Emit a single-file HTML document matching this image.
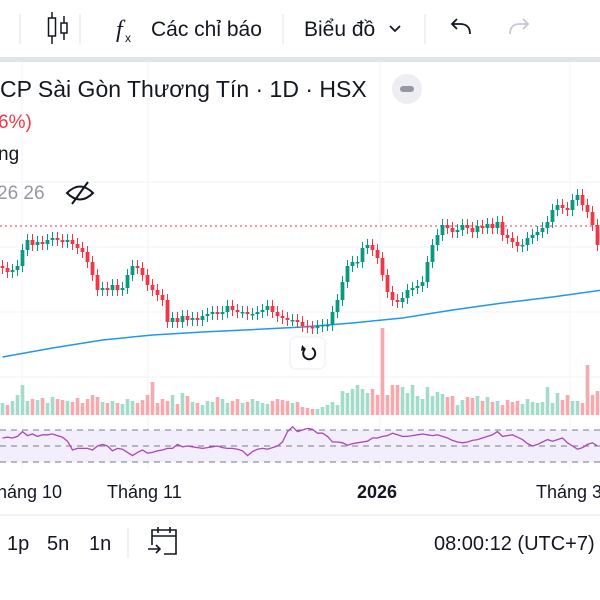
<!DOCTYPE html>
<html><head><meta charset="utf-8">
<style>
body{margin:0;width:600px;height:600px;overflow:hidden;background:#fff;font-family:"Liberation Sans","Noto Sans CJK SC",sans-serif;}
svg{position:absolute;left:0;top:0}
</style></head>
<body>
<svg width="600" height="600" viewBox="0 0 600 600">
<rect x="0" y="0" width="600" height="600" fill="#fff"/>
<g>
<line x1="20" y1="14" x2="20" y2="44" stroke="#e0e3eb"/>
<g>
<line x1="52" y1="12" x2="52" y2="44" stroke="#131722" stroke-width="1.5"/>
<rect x="48.5" y="18" width="7" height="18" fill="#fff" stroke="#131722" stroke-width="1.5"/>
<line x1="64" y1="16" x2="64" y2="40" stroke="#131722" stroke-width="1.5"/>
<rect x="61" y="23" width="6" height="10" fill="#fff" stroke="#131722" stroke-width="1.5"/>
</g>
<line x1="80" y1="14" x2="80" y2="44" stroke="#e0e3eb"/>
<g>
<text x="116" y="37" font-size="24" font-style="italic" fill="#131722" font-family="Liberation Serif,serif">f</text>
<text x="125" y="42" font-size="12" fill="#131722">x</text>
<text x="151" y="36" font-size="21" fill="#131722">Các chỉ báo</text>
</g>
<line x1="283" y1="14" x2="283" y2="44" stroke="#e0e3eb"/>
<g>
<text x="304" y="36" font-size="21" fill="#131722">Biểu đồ</text>
<path d="M390 26 l5 5 l5 -5" fill="none" stroke="#131722" stroke-width="1.8"/>
</g>
<line x1="425" y1="14" x2="425" y2="44" stroke="#e0e3eb"/>
<path d="M470 34 q0 -10 -10 -10 h-7 m4 -5 l-5 5 l5 5" fill="none" stroke="#131722" stroke-width="1.8"/>
<path d="M510 34 q0 -10 10 -10 h7 m-4 -5 l5 5 l-5 5" fill="none" stroke="#c5c8d0" stroke-width="1.8"/>
</g>
<rect x="0" y="57" width="600" height="5" fill="#e0e3eb"/>
<g id="grid"></g>
<g id="chart"></g>
<text x="0" y="97" font-size="23" fill="#131722">CP Sài Gòn Thương Tín · 1D · HSX</text>
<circle cx="407" cy="89" r="15" fill="#eceef2"/>
<rect x="400" y="86" width="14" height="6" rx="3" fill="#9598a1"/>
<text x="-2" y="128" font-size="19" fill="#f23645">6%)</text>
<text x="-2" y="160" font-size="19" fill="#131722">ng</text>
<text x="-3" y="199" font-size="19" fill="#9598a1">26 26</text>
<g fill="none" stroke="#131722" stroke-width="2">
<path d="M67 193 q13 -13 26 0 q-13 13 -26 0z"/>
<line x1="72" y1="204" x2="88" y2="182"/>
</g>
<g>
<rect x="290" y="337" width="35" height="32" rx="6" fill="#fff" stroke="#eceef2"/>
<path d="M312 348 a6 6 0 1 1 -7 1" fill="none" stroke="#131722" stroke-width="2"/>
<path d="M302 345 l4 4 l-5 2z" fill="#131722"/>
</g>
<g font-size="18" fill="#131722">
<text x="-3" y="498">háng 10</text>
<text x="107" y="498">Tháng 11</text>
<text x="357" y="498" font-weight="bold">2026</text>
<text x="536" y="498">Tháng 3</text>
</g>
<line x1="0" y1="515" x2="600" y2="515" stroke="#e0e3eb"/>
<g font-size="20" fill="#131722">
<text x="7" y="550">1p</text>
<text x="47" y="550">5n</text>
<text x="89" y="550">1n</text>
<line x1="128" y1="528" x2="128" y2="558" stroke="#e0e3eb"/>
<g fill="none" stroke="#131722" stroke-width="1.6">
<path d="M152 545 v-15 h24 v24 h-12"/><line x1="152" y1="536" x2="176" y2="536"/>
<line x1="158" y1="527" x2="158" y2="533"/><line x1="170" y1="527" x2="170" y2="533"/>
<path d="M148 549 h12 m-4 -4 l4 4 l-4 4"/>
</g>
<text x="434" y="550">08:00:12 (UTC+7)</text>
</g>
</svg>
<script>
const closes=[76,74,75,77,85,90,87.5,89,88,90,91,90,89,90,88,86,84,79,72.5,65,66,65,67.5,65,66,72.5,77,76,72.5,67.5,65,62.5,60,49,51,49,52,50,51,50,52,53,54,53,54,57,55,54,54,53,53,54,55,57,54,52,51,50,50,49,47,46.5,46,47,47.5,47.5,54,60,69,77,79,79,86,87.5,85,81,72.5,64,60,59,61,65,66,67,69,79,87.5,92.5,97.5,96,94,95,97.5,96,94,97,96,98,96,99,92.5,91,89,87,87.5,91,92.5,94,96,99,105,107.5,106,105,110,112.5,107.5,104,97.5,87.5];
const volumes=[12,10,14,20,30,14,16,15,17,12,18,16,15,14,13,17,12,16,20,18,13,12,14,12,11,16,14,12,15,20,33,12,16,14,20,11,22,19,13,12,10,14,13,18,16,12,14,16,12,13,16,14,12,11,14,16,15,14,12,13,8,7,6,6,8,10,13,10,24,22,26,30,26,22,26,20,87,20,30,30,28,22,30,19,16,28,19,23,21,18,19,10,15,18,17,19,14,18,13,14,10,15,13,14,11,16,13,12,13,28,12,22,15,20,14,14,12,50,20,24];
const rsi=[60,61,60,62,68,63,65,62,64,64,65,63,61,56,45,47,47,47,45,50,52,50,44,47,46,42,38,42,45,41,42,44,45,47,47,52,49,50,49,48,47,48,49,50,48,47,47,46,44,38,43,46,47,46,48,50,55,68,74,68,70,72,71,66,66,62,55,55,54,51,53,54,55,56,60,60,62,63,66,64,62,62,63,64,65,64,63,64,62,60,57,55,54,55,57,58,60,62,64,68,62,63,64,61,58,53,50,52,55,58,56,58,60,54,50,46,48,52,54,50];
const maValues=[31.5,36,40,42.5,44,45.2,46.5,48.5,51,55,58.5,61.5,65];
const yGrid=[182,247,312,377];
const xGrid=[22,148,380,570];
const lastPrice=97;

const NS="http://www.w3.org/2000/svg";
const step=5;
function xScale(i){return 2.5+i*step;}
function yPrice(p){return 420-p*2;}
function yVol(v){return 415-v;}
function yRsi(r){return 462-(r-30)*32/40;}
function mk(tag,attrs,parent){const e=document.createElementNS(NS,tag);for(const k in attrs)e.setAttribute(k,attrs[k]);parent.appendChild(e);return e;}
const g=document.getElementById('chart');
const grid=document.getElementById('grid');
yGrid.forEach(y=>{const l=mk('line',{x1:0,x2:600,y1:y,y2:y,stroke:'#f0f3fa'},grid);

});
xGrid.forEach(x=>{const l=mk('line',{x1:x,x2:x,y1:62,y2:470,stroke:'#f0f3fa'},grid);

});
const band=mk('rect',{x:0,y:yRsi(70),width:600,height:yRsi(30)-yRsi(70),fill:'#f3eefb'},g);


[70,50,30].forEach(r=>{const l=mk('line',{x1:0,x2:600,y1:yRsi(r),y2:yRsi(r),stroke:'#787b86','stroke-dasharray':'6,5'},g);

});
const lp=mk('line',{x1:0,x2:600,y1:yPrice(lastPrice),y2:yPrice(lastPrice),stroke:'#f23645','stroke-dasharray':'2,3'},g);


volumes.forEach((v,i)=>{const up=closes[i]>=(i?closes[i-1]:closes[i]);
const r=mk('rect',{x:xScale(i)-1.8,y:yVol(v),width:3.6,height:v,fill:up?'#a3dccb':'#f7a9ae'},g);

});
const maPts=maValues.map((m,k)=>xScale(k*10)+','+yPrice(m)).join(' ');
const ma=mk('polyline',{points:maPts,fill:'none',stroke:'#2196f3','stroke-width':1.5},g);


closes.forEach((c,i)=>{const o=i?closes[i-1]:c+1;const up=c>=o;const col=up?'#089981':'#f23645';
const hi=Math.max(o,c)+3,lo=Math.min(o,c)-3;
const w=mk('line',{x1:xScale(i),x2:xScale(i),y1:yPrice(hi),y2:yPrice(lo),stroke:col,'stroke-width':1},g);


const top=yPrice(Math.max(o,c)),h=Math.max(1.5,Math.abs(o-c)*2);
const b=mk('rect',{x:xScale(i)-1.9,y:top,width:3.8,height:h,fill:col},g);

});
const rp=rsi.map((r,i)=>xScale(i)+','+yRsi(r)).join(' ');
const rl=mk('polyline',{points:rp,fill:'none',stroke:'#ab47bc','stroke-width':1.3},g);


</script>
</body></html>
